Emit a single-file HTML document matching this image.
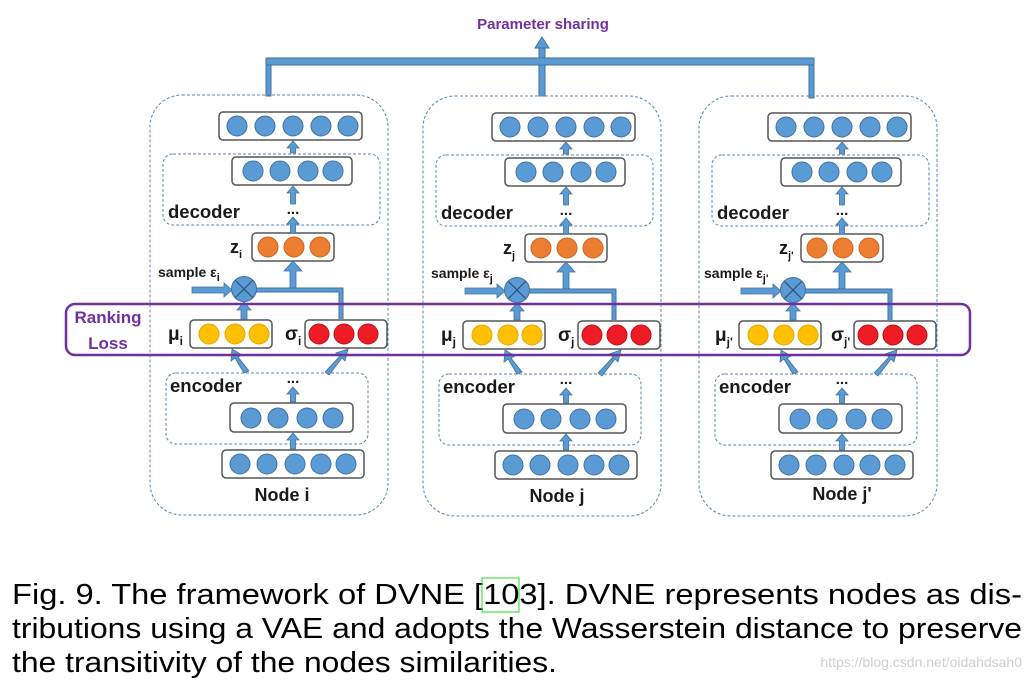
<!DOCTYPE html>
<html><head><meta charset="utf-8"><style>
html,body{margin:0;padding:0;background:#fff;width:1033px;height:685px;overflow:hidden}
svg{display:block}
.lbl{font-family:"Liberation Sans",sans-serif;font-weight:bold;fill:#1a1a1a}
</style></head><body>
<svg width="1033" height="685" viewBox="0 0 1033 685" xmlns="http://www.w3.org/2000/svg">
<defs>
<g id="panel">
  <rect x="150" y="95" width="238" height="420" rx="32" fill="none" stroke="#5a86b0" stroke-width="1" stroke-dasharray="3,2"/>
  <rect x="219" y="112" width="143" height="28" rx="4" fill="#fff" stroke="#555" stroke-width="1.5"/>
  <g fill="#5b9bd5" stroke="#41719c" stroke-width="1">
    <circle cx="237" cy="126" r="10"/><circle cx="265" cy="126" r="10"/><circle cx="293" cy="126" r="10"/><circle cx="321" cy="126" r="10"/><circle cx="348" cy="126" r="10"/>
  </g>
  <rect x="163" y="154" width="217" height="71" rx="10" fill="none" stroke="#5a86b0" stroke-width="1" stroke-dasharray="3,2"/>
  <rect x="232" y="157" width="120" height="28" rx="4" fill="#fff" stroke="#555" stroke-width="1.5"/>
  <g fill="#5b9bd5" stroke="#41719c" stroke-width="1">
    <circle cx="253" cy="171" r="10"/><circle cx="280" cy="171" r="10"/><circle cx="308" cy="171" r="10"/><circle cx="333" cy="171" r="10"/>
  </g>
  <rect x="252" y="233" width="82" height="28" rx="4" fill="#fff" stroke="#555" stroke-width="1.5"/>
  <g fill="#ed7d31" stroke="#c8651f" stroke-width="1">
    <circle cx="268" cy="247" r="10"/><circle cx="294" cy="247" r="10"/><circle cx="320" cy="247" r="10"/>
  </g>
  <rect x="190" y="320" width="82" height="28" rx="4" fill="#fff" stroke="#555" stroke-width="1.5"/>
  <g fill="#ffc000" stroke="#e0a800" stroke-width="1">
    <circle cx="209" cy="334" r="10"/><circle cx="235" cy="334" r="10"/><circle cx="259" cy="334" r="10"/>
  </g>
  <rect x="305" y="320" width="82" height="28" rx="4" fill="#fff" stroke="#555" stroke-width="1.5"/>
  <g fill="#ee1c25" stroke="#c01018" stroke-width="1">
    <circle cx="319" cy="334" r="10"/><circle cx="344" cy="334" r="10"/><circle cx="368" cy="334" r="10"/>
  </g>
  <rect x="166" y="373" width="202" height="71" rx="10" fill="none" stroke="#5a86b0" stroke-width="1" stroke-dasharray="3,2"/>
  <rect x="230" y="403" width="123" height="29" rx="4" fill="#fff" stroke="#555" stroke-width="1.5"/>
  <g fill="#5b9bd5" stroke="#41719c" stroke-width="1">
    <circle cx="251" cy="418" r="10"/><circle cx="278" cy="418" r="10"/><circle cx="307" cy="418" r="10"/><circle cx="333" cy="418" r="10"/>
  </g>
  <rect x="222" y="450" width="142" height="28" rx="4" fill="#fff" stroke="#555" stroke-width="1.5"/>
  <g fill="#5b9bd5" stroke="#41719c" stroke-width="1">
    <circle cx="240" cy="464" r="10"/><circle cx="267" cy="464" r="10"/><circle cx="295" cy="464" r="10"/><circle cx="321" cy="464" r="10"/><circle cx="346" cy="464" r="10"/>
  </g>
  <text x="293" y="214" text-anchor="middle" class="lbl" font-size="15">...</text>
  <text x="293" y="383" text-anchor="middle" class="lbl" font-size="15">...</text>
  <g fill="#5b9bd5" stroke="#41719c" stroke-width="0.8">
    <polygon points="290.5,153 290.5,148 287,148 293,141 299,148 295.5,148 295.5,153"/>
    <polygon points="290.5,204 290.5,193 287,193 293,186 299,193 295.5,193 295.5,204"/>
    <polygon points="290.5,233 290.5,224 287,224 293,217 299,224 295.5,224 295.5,233"/>
    <polygon points="290,289 290,271 284,271 293,261 302,271 296,271 296,289"/>
    <polygon points="241,319 241,310 237,310 244,302 251,310 247,310 247,319"/>
    <polygon points="290.5,449 290.5,440 287,440 293,433 299,440 295.5,440 295.5,449"/>
    <polygon points="290.5,402 290.5,394 287,394 293,387 299,394 295.5,394 295.5,402"/>
    <polygon points="192,287 224,287 224,283 232,290 224,297 224,293 192,293"/>
    <polygon points="244,373 235,358 231,361 232,349 242,355 238,357 249,371"/>
    <polygon points="325,372 340,356 336,353 348,349 345,361 342,358 329,375"/>
  </g>
  <path d="M256,290 H341 V319" fill="none" stroke="#41719c" stroke-width="5"/>
  <path d="M256,290 H341 V319" fill="none" stroke="#5b9bd5" stroke-width="3"/>
  <circle cx="244" cy="289" r="12.5" fill="#5b9bd5" stroke="#41719c" stroke-width="1"/>
  <path d="M235.5,280.5 L252.5,297.5 M252.5,280.5 L235.5,297.5" stroke="#2d4f73" stroke-width="1.2"/>
</g>
</defs>

<text x="543" y="29" text-anchor="middle" font-family="Liberation Sans,sans-serif" font-weight="bold" font-size="15" fill="#7030a0">Parameter sharing</text>
<g fill="#5b9bd5" stroke="#41719c" stroke-width="1">
  <rect x="266" y="59" width="5" height="37"/>
  <rect x="809" y="59" width="5" height="39"/>
  <rect x="539" y="48" width="6" height="48"/>
  <polygon points="535,48 542,37 549,48"/>
  <rect x="266" y="58" width="548" height="7"/>
</g>

<use href="#panel"/>
<use href="#panel" transform="translate(273,1)"/>
<use href="#panel" transform="translate(549,1)"/>

<rect x="66" y="304" width="904" height="51" rx="9" fill="none" stroke="#7030a0" stroke-width="2.5"/>
<text x="108" y="323" text-anchor="middle" font-family="Liberation Sans,sans-serif" font-weight="bold" font-size="17" fill="#7030a0">Ranking</text>
<text x="108" y="349" text-anchor="middle" font-family="Liberation Sans,sans-serif" font-weight="bold" font-size="17" fill="#7030a0">Loss</text>

<g>
<text x="168" y="218" class="lbl" font-size="18.5">decoder</text>
<text x="230" y="253" class="lbl" font-size="18">z<tspan dy="5" font-size="11">i</tspan></text>
<text x="158" y="277" class="lbl" font-size="14">sample ε<tspan dy="4" font-size="11">i</tspan></text>
<text x="168" y="340" class="lbl" font-size="19">μ<tspan dy="5" font-size="12">i</tspan></text>
<text x="285" y="340" class="lbl" font-size="19">σ<tspan dy="5" font-size="12">i</tspan></text>
<text x="170" y="392" class="lbl" font-size="18.5">encoder</text>
<text x="282" y="501" text-anchor="middle" class="lbl" font-size="18">Node i</text>
</g>
<g transform="translate(273,1)">
<text x="168" y="218" class="lbl" font-size="18.5">decoder</text>
<text x="230" y="253" class="lbl" font-size="18">z<tspan dy="5" font-size="11">j</tspan></text>
<text x="158" y="277" class="lbl" font-size="14">sample ε<tspan dy="4" font-size="11">j</tspan></text>
<text x="168" y="340" class="lbl" font-size="19">μ<tspan dy="5" font-size="12">j</tspan></text>
<text x="285" y="340" class="lbl" font-size="19">σ<tspan dy="5" font-size="12">j</tspan></text>
<text x="170" y="392" class="lbl" font-size="18.5">encoder</text>
<text x="284" y="501" text-anchor="middle" class="lbl" font-size="18">Node j</text>
</g>
<g transform="translate(549,1)">
<text x="168" y="218" class="lbl" font-size="18.5">decoder</text>
<text x="230" y="253" class="lbl" font-size="18">z<tspan dy="5" font-size="11">j'</tspan></text>
<text x="155" y="277" class="lbl" font-size="14">sample ε<tspan dy="4" font-size="11">j'</tspan></text>
<text x="166" y="340" class="lbl" font-size="19">μ<tspan dy="5" font-size="12">j'</tspan></text>
<text x="282" y="340" class="lbl" font-size="19">σ<tspan dy="5" font-size="12">j'</tspan></text>
<text x="170" y="392" class="lbl" font-size="18.5">encoder</text>
<text x="293" y="499" text-anchor="middle" class="lbl" font-size="18">Node j'</text>
</g>

<g font-family="Liberation Sans,sans-serif" font-size="29" fill="#000">
<text x="12" y="604" textLength="1010" lengthAdjust="spacingAndGlyphs">Fig. 9. The framework of DVNE [103]. DVNE represents nodes as dis-</text>
<text x="12" y="638" textLength="1010" lengthAdjust="spacingAndGlyphs">tributions using a VAE and adopts the Wasserstein distance to preserve</text>
<text x="12" y="672" textLength="545" lengthAdjust="spacingAndGlyphs">the transitivity of the nodes similarities.</text>
</g>
<rect x="482" y="578" width="37" height="34" fill="none" stroke="#22dd22" stroke-width="1"/>
<text x="1022" y="667" text-anchor="end" font-family="Liberation Sans,sans-serif" font-size="14" fill="#cfcfcf">https://blog.csdn.net/oidahdsah0</text>
</svg>
</body></html>
